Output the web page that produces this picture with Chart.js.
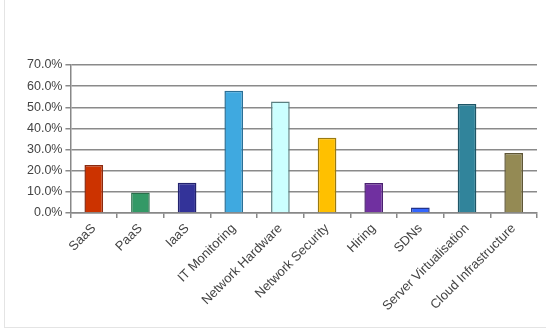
<!DOCTYPE html>
<html>
<head>
<meta charset="utf-8">
<script src="https://cdn.jsdelivr.net/npm/chart.js@4/dist/chart.umd.min.js"></script>
<style>
  html, body { margin: 0; padding: 0; background: #fff; }
  #wrap { position: relative; width: 546px; height: 334px; }
  #frame { position: absolute; left: 4px; top: 0; width: 542px; height: 328px;
           border-left: 1px solid #e4e4e4; border-bottom: 1px solid #e4e4e4; box-sizing: border-box; }
  canvas { position: absolute; left: 0; top: 0; }
</style>
</head>
<body>
<div id="wrap">
  <div id="frame"></div>
  <canvas id="chartTopics" width="546" height="334"></canvas>
</div>
<script>
const categories = [
  'SaaS', 'PaaS', 'IaaS', 'IT Monitoring', 'Network Hardware',
  'Network Security', 'Hiring', 'SDNs', 'Server Virtualisation', 'Cloud Infrastructure'
];
const shares = [0.227, 0.097, 0.143, 0.578, 0.527, 0.356, 0.142, 0.025, 0.515, 0.283];
const barColours = [
  '#cc3300', '#339966', '#333399', '#3fa9e0', '#ccffff',
  '#ffc000', '#7030a0', '#3366ff', '#31849b', '#948a54'
];
const edgeColours = [
  '#8a2a10', '#2a6e4a', '#22226e', '#2a6f96', '#5a7f80',
  '#9a7a10', '#4a2070', '#22338a', '#1e5566', '#5e5636'
];

window.onload = function () {
  const ctx = document.getElementById('chartTopics').getContext('2d');
  new Chart(ctx, {
    type: 'bar',
    data: {
      labels: categories,
      datasets: [{
        data: shares,
        backgroundColor: barColours,
        borderColor: edgeColours,
        borderWidth: 1.5,
        categoryPercentage: 1,
        barPercentage: 0.4
      }]
    },
    options: {
      responsive: false,
      animation: false,
      layout: { padding: { top: 65, right: 9, left: 24, bottom: 17 } },
      plugins: { legend: { display: false }, tooltip: { enabled: false } },
      scales: {
        x: {
          grid: { drawOnChartArea: false, offset: true, color: '#888', tickLength: 5, lineWidth: 1.5 },
          border: { color: '#888', width: 1.5 },
          ticks: {
            minRotation: 45, maxRotation: 45, autoSkip: false,
            color: '#444', font: { family: 'Liberation Sans', size: 13 }
          }
        },
        y: {
          min: 0, max: 0.7,
          grid: { color: '#8a8a8a', lineWidth: 1.5, tickLength: 5 },
          border: { color: '#888', width: 1.5 },
          ticks: {
            stepSize: 0.1,
            color: '#444', font: { family: 'Liberation Sans', size: 12.5 },
            callback: function (v) { return (v * 100).toFixed(1) + '%'; }
          }
        }
      }
    }
  });
};
</script>
</body>
</html>
